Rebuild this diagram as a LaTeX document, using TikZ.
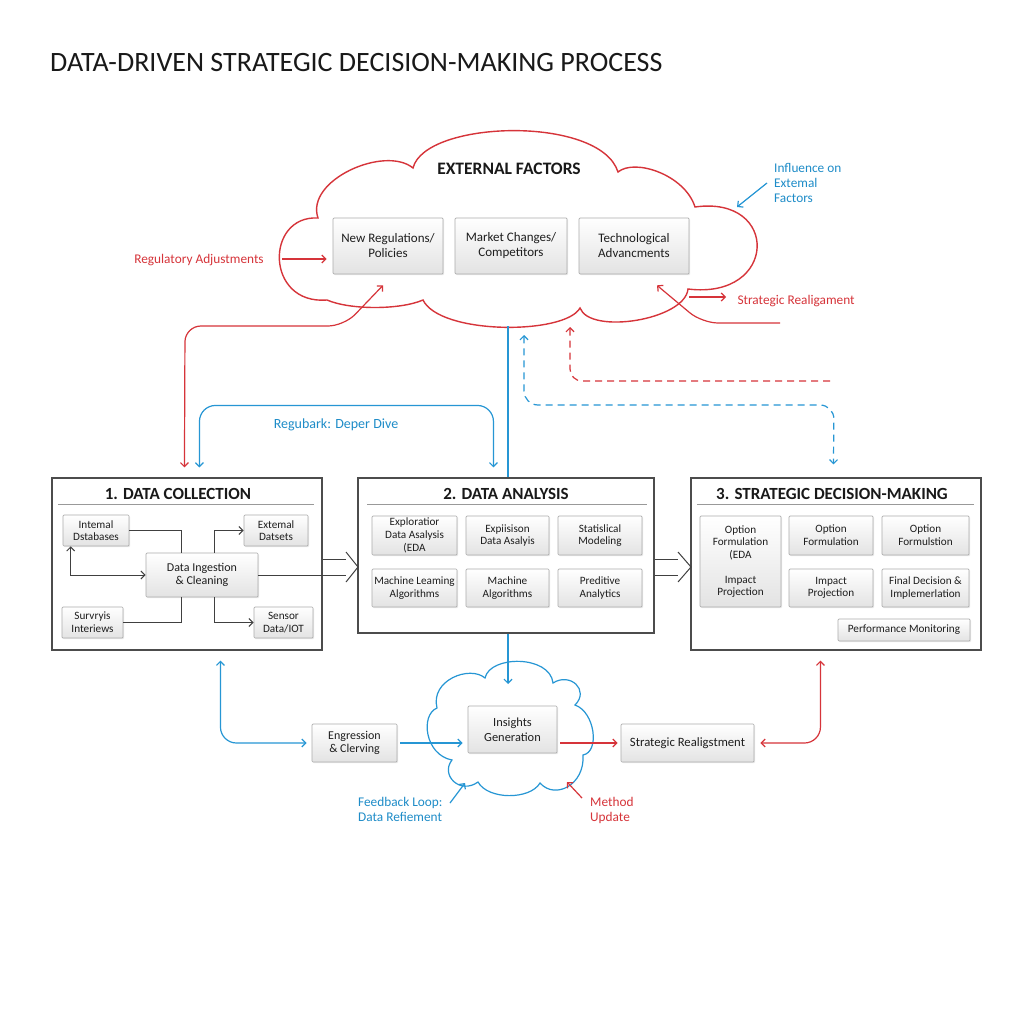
\documentclass[tikz,border=0pt]{standalone}
\usepackage{fontspec}
\setmainfont{Carlito}
\usetikzlibrary{calc,arrows.meta,shadows}
\definecolor{cred}{RGB}{214,52,58}
\definecolor{cblue}{RGB}{38,150,212}
\definecolor{cbluet}{RGB}{30,140,200}
\definecolor{ink}{RGB}{30,30,30}
\tikzset{
  gbox/.style={draw=gray!65, line width=0.7pt, top color=white, bottom color=gray!22,
    rounded corners=1pt, align=center, text=ink, inner sep=1pt,
    font=\fontsize{11.2}{12.7}\selectfont,
    drop shadow={opacity=0.15, shadow xshift=1.2pt, shadow yshift=-1.2pt}},
  panel/.style={draw=black!70, line width=1.1pt, fill=white},
  ptitle/.style={font=\bfseries\fontsize{17}{19}\selectfont, text=black!90, anchor=base},
  conn/.style={draw=black!75, line width=1pt},
  tip/.style={-{Straight Barb[length=4pt,width=8pt]}},
  dtip/.style={{Straight Barb[length=4pt,width=8pt]}-{Straight Barb[length=4pt,width=8pt]}},
  rline/.style={draw=cred, line width=1.2pt},
  bline/.style={draw=cblue, line width=1.2pt},
  rtxt/.style={text=cred, font=\fontsize{13.3}{15}\selectfont},
  btxt/.style={text=cbluet, font=\fontsize{13.3}{15}\selectfont},
}
\begin{document}
\begin{tikzpicture}[x=1pt,y=-1pt]
\useasboundingbox (0,0) rectangle (1024,1024);
\fill[white] (0,0) rectangle (1024,1024);

% title
\node[anchor=base west, font=\fontsize{28}{32}\selectfont, text=black!90, inner sep=0] (title) at (50,72) {DATA-DRIVEN STRATEGIC DECISION-MAKING PROCESS};

% external factors cloud
\draw[cred, line width=1.4pt, fill=white] (318,218) .. controls (305,180) and (385,145) .. (413,168)
  .. controls (425,120) and (600,115) .. (618,172)
  .. controls (635,158) and (685,175) .. (695,207)
  .. controls (780,195) and (778,300) .. (688,289)
  .. controls (685,320) and (590,335) .. (580,308)
  .. controls (565,335) and (440,335) .. (423,300)
  .. controls (400,310) and (350,310) .. (327,300)
  .. controls (265,305) and (265,215) .. (318,218) -- cycle;
\coordinate (cloudbot) at (508,326);
\coordinate (cb1) at (524,335);
\coordinate (cb2) at (570,327);
\node[font=\bfseries\fontsize{17.5}{20}\selectfont, anchor=base, text=black!90] (ext) at (509,175) {EXTERNAL FACTORS};
\node[gbox, font=\fontsize{13}{15}\selectfont, minimum width=110pt, minimum height=56pt] (pol) at (388,246) {New Regulations/\\Policies};
\node[gbox, font=\fontsize{13}{15}\selectfont, minimum width=112pt, minimum height=56pt] (mkt) at (511,246) {Market Changes/\\Competitors};
\node[gbox, font=\fontsize{13}{15}\selectfont, minimum width=110pt, minimum height=56pt] (tech) at (634,246) {Technological\\Advancments};

% red labels around cloud
\node[rtxt, anchor=base] (reg) at (199,263) {Regulatory Adjustments};
\coordinate (regy) at (0,259);
\draw[rline, tip] ($(reg.east |- regy)+(15,0)$) -- ($(pol.west |- regy)+(-6,0)$);
\node[rtxt, anchor=base west] (srtxt) at (734,304) {Strategic Realigament};
\coordinate (crt) at (689,297);
\draw[rline, tip] (crt) -- ([xshift=-8pt]srtxt.west |- crt);
\coordinate (rfree) at (780,323);
\draw[rline, tip, rounded corners=16pt] (rfree) -- (702,323) -- ($(tech.south)+(23,11)$);

\node[btxt, anchor=north west, align=left, inner sep=0] (infl) at (774,163) {Influence on\\Extemal\\Factors};
\draw[bline, tip] (767,183) -- (737,207);

% panels
\node[panel, minimum width=270pt, minimum height=172pt] (p1) at (187,564) {};
\node[panel, minimum width=296pt, minimum height=155pt] (p2) at (506,555.5) {};
\node[panel, minimum width=290pt, minimum height=172pt] (p3) at (836,564) {};
\node[ptitle] (t1) at (178,499) {1. DATA COLLECTION};
\node[ptitle] (t2) at (506,499) {2. DATA ANALYSIS};
\node[ptitle] (t3) at (832,499) {3. STRATEGIC DECISION-MAKING};
\draw[gray!80, line width=1pt] ($(p1.north west)+(7,27)$) -- ($(p1.north east)+(-9,27)$);
\draw[gray!80, line width=1pt] ($(p2.north west)+(10,27)$) -- ($(p2.north east)+(-8,27)$);
\draw[gray!80, line width=1pt] ($(p3.north west)+(7,27)$) -- ($(p3.north east)+(-8,27)$);

% panel 1 contents
\node[gbox, minimum width=66pt, minimum height=31pt] (int) at (96,530.5) {Intemal\\Dstabases};
\node[gbox, minimum width=64pt, minimum height=31pt] (exd) at (276,530.5) {Extemal\\Datsets};
\node[gbox, font=\fontsize{12}{13.5}\selectfont, minimum width=112pt, minimum height=44pt] (ing) at (202,575) {Data Ingestion\\\& Cleaning};
\node[gbox, minimum width=61pt, minimum height=31pt] (sur) at (92.5,622.5) {Survryis\\Interiews};
\node[gbox, minimum width=59pt, minimum height=31pt] (sen) at (283.5,622.5) {Sensor\\Data/IOT};
\draw[conn] (int.east) -| ([xshift=-21pt]ing.north);
\draw[conn, dtip] ([xshift=8pt]int.south west) |- (ing.west);
\draw[conn, tip] ([xshift=12pt]ing.north) |- (exd.west);
\draw[conn, tip] ([xshift=12pt]ing.south) |- (sen.west);
\draw[conn] (sur.east) -| ([xshift=-21pt]ing.south);

% hollow arrows between panels
\coordinate (a1t) at (346,559); \coordinate (a1u) at (346,552);
\coordinate (a1d) at (346,582); \coordinate (a1m) at (358,567);
\draw[conn] (p1.east |- a1t) -- (a1t);
\draw[conn] (ing.east) -- (ing.east -| a1t);
\draw[conn, line join=miter] (a1u) -- (a1m) -- (a1d);
\coordinate (a2t) at (678,559); \coordinate (a2b) at (678,575); \coordinate (a2u) at (678,552);
\coordinate (a2d) at (678,582); \coordinate (a2m) at (691,567);
\draw[conn] (p2.east |- a2t) -- (a2t);
\draw[conn] (p2.east |- a2b) -- (a2b);
\draw[conn, line join=miter] (a2u) -- (a2m) -- (a2d);

% panel 2 contents
\node[gbox, minimum width=85pt, minimum height=39pt] (eda) at (414.5,535.5) {Exploratior\\Data Asalysis\\(EDA};
\node[gbox, minimum width=83pt, minimum height=39pt] (exp) at (507.5,535.5) {Expiisison\\Data Asalyis};
\node[gbox, minimum width=84pt, minimum height=39pt] (stat) at (600,535.5) {Statislical\\Modeling};
\node[gbox, minimum width=85pt, minimum height=38pt] (mla) at (414.5,588) {Machine Leaming\\Algorithms};
\node[gbox, minimum width=83pt, minimum height=38pt] (ma) at (507.5,588) {Machine\\Algorithms};
\node[gbox, minimum width=84pt, minimum height=38pt] (pa) at (600,588) {Preditive\\Analytics};

% panel 3 contents
\node[gbox, minimum width=81pt, minimum height=91pt] (of1) at (740.5,561.5) {Option\\Formulation\\(EDA\\[12pt]Impact\\Projection};
\node[gbox, minimum width=84pt, minimum height=39pt] (of2) at (831,535.5) {Option\\Formulation};
\node[gbox, minimum width=87pt, minimum height=39pt] (of3) at (925.5,535.5) {Option\\Formulstion};
\node[gbox, minimum width=84pt, minimum height=38pt] (ip) at (831,588) {Impact\\Projection};
\node[gbox, minimum width=87pt, minimum height=38pt] (fd) at (925.5,588) {Final Decision \&\\Implemerlation};
\node[gbox, minimum width=132pt, minimum height=22pt] (pm) at (904,630) {Performance Monitoring};

% connectors above panels
\draw[rline, dtip, rounded corners=16pt] ($(pol.south)+(-5,11)$) -- (344,326) -- (185,326) -- ($(p1.north west)+(133,-10)$);
\draw[bline, dtip, rounded corners=16pt] ($(p1.north west)+(148,-10)$) -- ++(0,-62) -| ($(p2.north west)+(136,-10)$);
\node[btxt, font=\fontsize{14}{16}\selectfont] (deep) at (336,425) {Regubark: Deper Dive};
\draw[bline] (cloudbot) -- (cloudbot |- p2.north);
\draw[bline, dtip, dash pattern=on 7pt off 5pt, rounded corners=14pt] (cb1) -- (cb1 |- 0,405) -- (834,405) -- ($(p3.north west)+(143,-13)$);
\coordinate (rdf) at (830,381);
\draw[rline, tip, dash pattern=on 7pt off 5pt, rounded corners=12pt] (rdf) -- (rdf -| cb2) -- (cb2);

% bottom area
\draw[cblue, line width=1.2pt] (485,678) .. controls (490,655) and (550,655) .. (553,683)
  .. controls (570,672) and (590,690) .. (575,705)
  .. controls (595,712) and (600,752) .. (583,755)
  .. controls (585,785) and (555,800) .. (540,783)
  .. controls (530,800) and (488,800) .. (478,782)
  .. controls (460,795) and (440,775) .. (452,760)
  .. controls (425,755) and (420,715) .. (437,708)
  .. controls (430,680) and (470,665) .. (485,678) -- cycle;
\coordinate (icl) at (508,684);
\draw[bline, tip] (p2.south -| cloudbot) -- (icl);
\node[gbox, font=\fontsize{12.4}{14.5}\selectfont, minimum width=89pt, minimum height=47pt] (ins) at (512.5,729.5) {Insights\\Generation};
\node[gbox, font=\fontsize{12}{13.5}\selectfont, minimum width=85pt, minimum height=38pt] (eng) at (354.5,743) {Engression\\\& Clerving};
\node[gbox, font=\fontsize{12.7}{14.5}\selectfont, minimum width=133pt, minimum height=38pt] (real) at (687.5,743) {Strategic Realigstment};
\draw[bline, dtip, rounded corners=16pt] ($(p1.south west)+(169,10)$) |- ($(eng.west)+(-5,0)$);
\draw[bline, tip] ($(eng.east)+(3,0)$) -- ($(ins.west |- eng.east)+(-5,0)$);
\draw[rline, tip] ($(ins.east |- real.west)+(3,0)$) -- ($(real.west)+(-3,0)$);
\draw[rline, dtip, rounded corners=16pt] ($(real.east)+(6,0)$) -| ($(p3.south west)+(130,10)$);
\node[btxt, anchor=north west, align=left, inner sep=0] (fb) at (358,797) {Feedback Loop:\\Data Refiement};
\draw[bline, tip] (450,803) -- (465,783);
\node[rtxt, anchor=north west, align=left, inner sep=0] (mu) at (590,797) {Method\\Update};
\draw[rline, tip] (582,798) -- (567,782);
\end{tikzpicture}
\end{document}
